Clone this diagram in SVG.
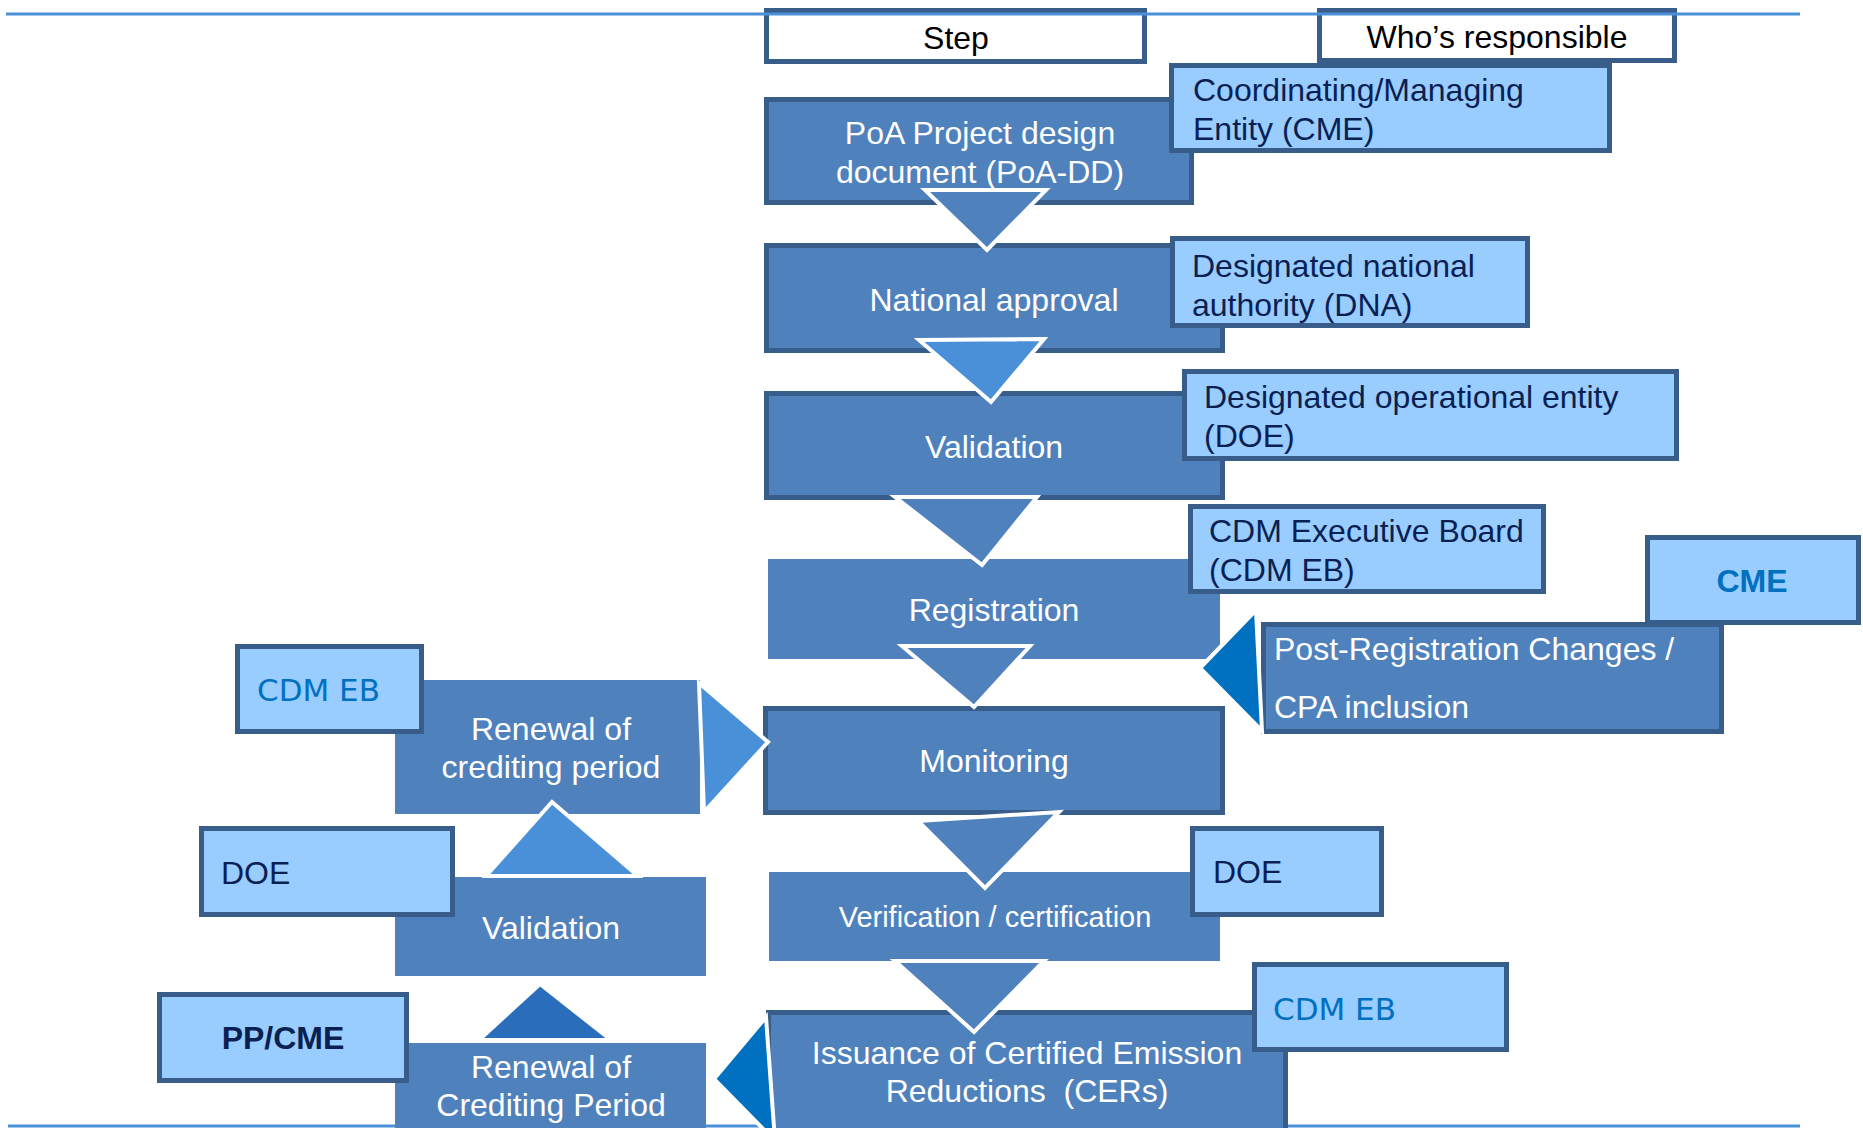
<svg xmlns="http://www.w3.org/2000/svg" width="1863" height="1128" viewBox="0 0 1863 1128">
<style>
.step{fill:#4f81bd;stroke:#385d8a;stroke-width:5}
.flat{fill:#4f81bd}
.who{fill:#99ccff;stroke:#385d8a;stroke-width:5}
.hdr{fill:#ffffff;stroke:#385d8a;stroke-width:5}
text{font-family:"Liberation Sans",Arial,sans-serif;font-size:32px}
.w{fill:#ffffff;text-anchor:middle}
.n{fill:#0a1f52}
.k{fill:#000000;text-anchor:middle}
.eb{font-family:"DejaVu Sans",Verdana,sans-serif;font-size:31px;fill:#0070c0}
.b{font-weight:bold}
.arr{stroke:#ffffff;stroke-width:4;stroke-linejoin:miter}
.a1{fill:#4f81bd}
.a2{fill:#4a90d9}
.a3{fill:#0070c0}
.a4{fill:#2a6ebb}
.rule{stroke:#4a90d9;stroke-width:3}
</style>
<line class="rule" x1="8" y1="1126" x2="1800" y2="1126"/>
<g id="header-step"><rect class="hdr" x="766.5" y="10.5" width="378" height="51"/><text class="k" x="956" y="49">Step</text></g>
<g id="header-who"><rect class="hdr" x="1319.5" y="10.5" width="355" height="50"/><text class="k" x="1497" y="48">Who’s responsible</text></g>
<g id="poa-dd"><rect class="step" x="766.5" y="99.5" width="425" height="103"/><text class="w" x="980" y="144">PoA Project design</text><text class="w" x="980" y="183">document (PoA-DD)</text></g>
<g id="national-approval"><rect class="step" x="766.5" y="245.5" width="456" height="105"/><text class="w" x="994" y="311">National approval</text></g>
<g id="validation"><rect class="step" x="766.5" y="393.5" width="456" height="104"/><text class="w" x="994" y="458">Validation</text></g>
<g id="registration"><rect class="flat" x="768" y="559" width="452" height="100"/><text class="w" x="994" y="621">Registration</text></g>
<g id="monitoring"><rect class="step" x="765.5" y="708.5" width="457" height="104"/><text class="w" x="994" y="772">Monitoring</text></g>
<g id="verification"><rect class="flat" x="769" y="872" width="451" height="89"/><text class="w" x="995" y="927" style="font-size:29px">Verification / certification</text></g>
<g id="issuance"><rect class="step" x="768.5" y="1012.5" width="517" height="140"/><text class="w" x="1027" y="1064">Issuance of Certified Emission</text><text class="w" x="1027" y="1102" xml:space="preserve">Reductions  (CERs)</text></g>
<g id="renewal-upper"><rect class="flat" x="395" y="680" width="305" height="134"/><text class="w" x="551" y="740">Renewal of</text><text class="w" x="551" y="778">crediting period</text></g>
<g id="validation-left"><rect class="flat" x="395" y="877" width="311" height="99"/><text class="w" x="551" y="939">Validation</text></g>
<g id="renewal-lower"><rect class="flat" x="395" y="1043" width="311" height="100"/><text class="w" x="551" y="1078">Renewal of</text><text class="w" x="551" y="1116">Crediting Period</text></g>
<g id="cme-who"><rect class="who" x="1171.5" y="65.5" width="438" height="85"/><text class="n" x="1193" y="101">Coordinating/Managing</text><text class="n" x="1193" y="140">Entity (CME)</text></g>
<g id="dna-who"><rect class="who" x="1172.5" y="238.5" width="355" height="87"/><text class="n" x="1192" y="277">Designated national</text><text class="n" x="1192" y="316">authority (DNA)</text></g>
<g id="doe-who"><rect class="who" x="1184.5" y="371.5" width="492" height="87"/><text class="n" x="1204" y="408">Designated operational entity</text><text class="n" x="1204" y="447">(DOE)</text></g>
<g id="eb-who"><rect class="who" x="1190.5" y="506.5" width="353" height="85"/><text class="n" x="1209" y="542">CDM Executive Board</text><text class="n" x="1209" y="581">(CDM EB)</text></g>
<g id="cme-post"><rect class="who" x="1647.5" y="537.5" width="211" height="85"/><text class="b" x="1752" y="592" style="fill:#0070c0;text-anchor:middle">CME</text></g>
<g id="post-registration"><rect class="step" x="1263.5" y="624.5" width="458" height="107"/><text x="1274" y="660" style="fill:#ffffff">Post-Registration Changes /</text><text x="1274" y="718" style="fill:#ffffff">CPA inclusion</text></g>
<g id="eb-renewal"><rect class="who" x="237.5" y="646.5" width="184" height="85"/><text class="eb" x="257" y="701">CDM EB</text></g>
<g id="doe-validation"><rect class="who" x="201.5" y="828.5" width="251" height="86"/><text class="n" x="221" y="884">DOE</text></g>
<g id="ppcme"><rect class="who" x="159.5" y="994.5" width="247" height="86"/><text class="n b" x="283" y="1049" style="text-anchor:middle">PP/CME</text></g>
<g id="doe-verification"><rect class="who" x="1192.5" y="828.5" width="189" height="86"/><text class="n" x="1213" y="883">DOE</text></g>
<g id="eb-issuance"><rect class="who" x="1254.5" y="964.5" width="252" height="85"/><text class="eb" x="1273" y="1020">CDM EB</text></g>
<g id="connectors">
<polygon class="arr a1" points="925,190 1046,190 987,250"/>
<polygon class="arr a2" points="919,340 1044,339 991,402"/>
<polygon class="arr a1" points="895,497 1037,497 982,565"/>
<polygon class="arr a1" points="902,646 1030,646 974,707"/>
<polygon class="arr a1" points="918,821 1059,812 985,888"/>
<polygon class="arr a1" points="895,961 1044,961 974,1032"/>
<polygon class="arr a2" points="552,802 638,876 486,876"/>
<polygon class="arr a4" points="540,984 611,1040 479,1040"/>
<polygon class="arr a2" points="699,683 768,742 704,812"/>
<polygon class="arr a3" points="1256,610 1200,668 1262,731"/>
<polygon class="arr a3" points="766,1017 714,1079 775,1141"/>
</g>
<line class="rule" x1="6" y1="14" x2="1800" y2="14"/>
</svg>
